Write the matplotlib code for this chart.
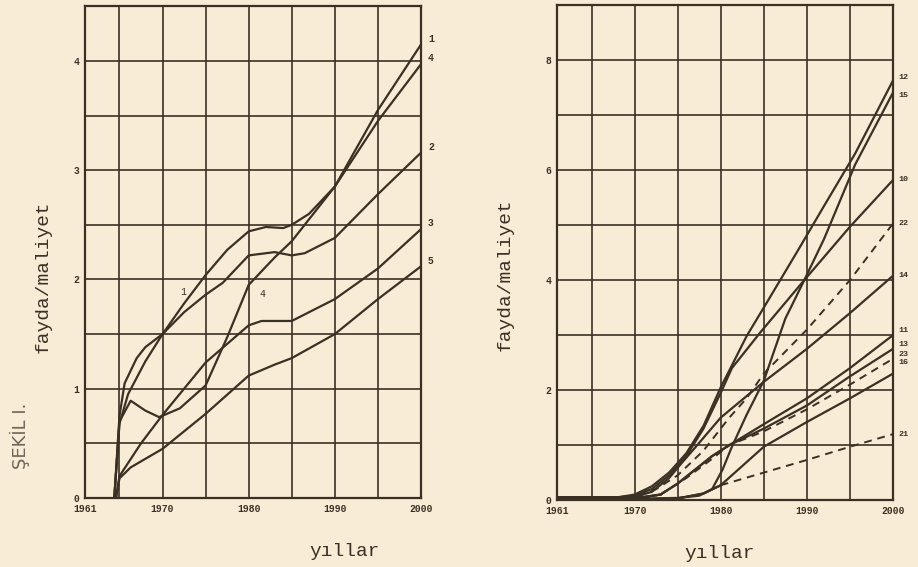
import matplotlib
matplotlib.use("Agg")
import matplotlib.pyplot as plt

# --- left panel (1..5) ---
left_names = ["1", "2", "3", "4", "5"]
left_years = [
    [1964.4, 1965, 1966, 1968, 1970, 1972.5, 1975, 1977.5, 1980, 1982, 1984, 1985, 1987, 1990, 1995, 2000],
    [1964.4, 1965, 1965.6, 1967, 1968, 1970, 1972.5, 1975, 1977, 1980, 1983, 1985, 1986.5, 1990, 1995, 2000],
    [1964.6, 1965, 1967.5, 1970, 1975, 1980, 1981.5, 1985, 1990, 1995, 2000],
    [1964.4, 1965, 1966.3, 1968, 1969.6, 1972, 1975, 1977.5, 1980, 1983, 1985, 1987, 1990, 1995, 2000],
    [1964.6, 1965, 1966.3, 1970, 1975, 1980, 1983, 1985, 1990, 1995, 2000],
]
left_vals = [
    [0.0, 0.68, 0.95, 1.25, 1.5, 1.78, 2.04, 2.27, 2.44, 2.48, 2.47, 2.5, 2.6, 2.85, 3.55, 4.15],
    [0.0, 0.75, 1.05, 1.28, 1.38, 1.5, 1.7, 1.86, 1.97, 2.22, 2.25, 2.22, 2.24, 2.38, 2.78, 3.16],
    [0.0, 0.2, 0.5, 0.76, 1.24, 1.58, 1.62, 1.62, 1.82, 2.1, 2.46],
    [0.0, 0.7, 0.89, 0.8, 0.74, 0.82, 1.03, 1.47, 1.95, 2.2, 2.35, 2.55, 2.85, 3.45, 3.97],
    [0.0, 0.18, 0.28, 0.45, 0.77, 1.12, 1.22, 1.28, 1.5, 1.82, 2.12],
]

# --- right panel (10..23), dashed ones marked below ---
right_names = ["12", "15", "10", "22", "14", "11", "13", "23", "16", "21"]
right_dashed = {"22": (1970.5, 2000), "23": (1973, 2000), "21": (1980, 2000)}
right_years = [
    [1961, 1968, 1970, 1972, 1974, 1976, 1978, 1980, 1981.3, 1983, 1985, 1989, 1992, 1995.6, 2000],
    [1961, 1972, 1975, 1977.5, 1979, 1980.2, 1981.3, 1983, 1985, 1987.5, 1989.7, 1992, 1995.6, 2000],
    [1961, 1968, 1970, 1972, 1974, 1976, 1978, 1980, 1981.3, 1984.6, 1989.7, 1995, 2000],
    [1961, 1968, 1970.5, 1972.5, 1975, 1978, 1981, 1983, 1985, 1990, 1995, 2000],
    [1961, 1968, 1970, 1972, 1974, 1975.5, 1977, 1980, 1985, 1990, 1995, 2000],
    [1961, 1970, 1973, 1975, 1977, 1979, 1981, 1985, 1990, 1995, 2000],
    [1961, 1970, 1973, 1975, 1977, 1979, 1981, 1985, 1990, 1995, 2000],
    [1961, 1970, 1973, 1976, 1979, 1981, 1985, 1990, 1995, 2000],
    [1961, 1972, 1975, 1978, 1980, 1982, 1985, 1990, 1995, 2000],
    [1961, 1972, 1975, 1978, 1980, 1985, 1990, 1995, 2000],
]
right_vals = [
    [0.05, 0.05, 0.1, 0.25, 0.5, 0.85, 1.35, 2.05, 2.45, 2.98, 3.5, 4.55, 5.35, 6.3, 7.63],
    [0.03, 0.03, 0.04, 0.08, 0.2, 0.55, 0.97, 1.55, 2.17, 3.3, 4.0, 4.75, 6.1, 7.41],
    [0.05, 0.05, 0.08, 0.2, 0.45, 0.8, 1.3, 1.95, 2.4, 3.05, 4.0, 4.97, 5.82],
    [0.05, 0.05, 0.07, 0.2, 0.45, 0.9, 1.5, 1.85, 2.3, 3.1, 4.0, 5.03],
    [0.04, 0.04, 0.06, 0.15, 0.4, 0.68, 0.95, 1.5, 2.15, 2.75, 3.4, 4.08],
    [0.03, 0.03, 0.1, 0.3, 0.55, 0.8, 1.0, 1.38, 1.85, 2.4, 3.0],
    [0.03, 0.03, 0.1, 0.3, 0.55, 0.8, 1.0, 1.3, 1.72, 2.25, 2.75],
    [0.03, 0.03, 0.1, 0.4, 0.75, 1.0, 1.25, 1.65, 2.1, 2.57],
    [0.02, 0.02, 0.03, 0.12, 0.27, 0.55, 0.97, 1.42, 1.85, 2.3],
    [0.02, 0.02, 0.03, 0.12, 0.27, 0.5, 0.73, 0.97, 1.2],
]

# label nudges at the right edge (points)
right_label_dy = {"12": 2, "15": -2, "11": 3, "13": 3, "23": 3, "16": 8}

paper = "#f8ecd6"
ink = "#3a3124"
mono = "Liberation Mono"

fig = plt.figure(figsize=(9.18, 5.67), dpi=100, facecolor=paper)
axl = fig.add_axes([0.0926, 0.1217, 0.366, 0.8673])
axr = fig.add_axes([0.6068, 0.118, 0.366, 0.873])


def style_axes(ax, ymax, ystep, yticks):
    ax.set_facecolor(paper)
    ax.set_xlim(1961, 2000)
    ax.set_ylim(0, ymax)
    grid_x = [1961] + list(range(1965, 2001, 5))
    ax.set_xticks(grid_x)
    ax.set_xticklabels([str(y) if y in (1961, 1970, 1980, 1990, 2000) else "" for y in grid_x])
    gy = [i * ystep for i in range(int(round(ymax / ystep)) + 1)]
    ax.set_yticks(gy)
    ax.set_yticklabels([str(int(v)) if v in yticks else "" for v in gy])
    ax.grid(True, color=ink, linewidth=1.2)
    ax.tick_params(length=0, labelsize=7, colors=ink, pad=4)
    for lab in ax.get_xticklabels() + ax.get_yticklabels():
        lab.set_fontfamily(mono)
        lab.set_fontweight("bold")
    for s in ax.spines.values():
        s.set_color(ink)
        s.set_linewidth(1.6)
    ax.set_ylabel("fayda/maliyet", fontfamily=mono, fontsize=14, color=ink)
    ax.set_xlabel("yıllar", fontfamily=mono, fontsize=14, color=ink)


style_axes(axl, 4.5, 0.5, [0, 1, 2, 3, 4])
style_axes(axr, 9, 1, [0, 2, 4, 6, 8])
axl.yaxis.set_label_coords(-0.098, 0.45)
axl.xaxis.set_label_coords(0.774, -0.092)
axr.yaxis.set_label_coords(-0.128, 0.455)
axr.xaxis.set_label_coords(0.485, -0.09)

for name, xs, ys in zip(left_names, left_years, left_vals):
    axl.plot(xs, ys, color=ink, linewidth=1.6, solid_capstyle="round")
    axl.annotate(name, (xs[-1], ys[-1]), xytext=(5, 2), textcoords="offset points",
                 fontsize=7, fontfamily=mono, fontweight="bold", color=ink,
                 annotation_clip=False)

# small inline labels on the left panel
axl.text(1972.0, 1.86, "1", fontsize=7, fontfamily=mono, color=ink)
axl.text(1981.3, 1.84, "4", fontsize=7, fontfamily=mono, color=ink)

for name, xs, ys in zip(right_names, right_years, right_vals):
    if name in right_dashed:
        start = right_dashed[name][0]
        solid_x = [x for x in xs if x <= start]
        solid_y = ys[:len(solid_x)]
        dash_x = xs[len(solid_x) - 1:]
        dash_y = ys[len(solid_x) - 1:]
        axr.plot(solid_x, solid_y, color=ink, linewidth=1.6)
        axr.plot(dash_x, dash_y, color=ink, linewidth=1.4, linestyle=(0, (4, 3)))
    else:
        axr.plot(xs, ys, color=ink, linewidth=1.6)
    axr.annotate(name, (xs[-1], ys[-1]), xytext=(4, right_label_dy.get(name, 0)),
                 textcoords="offset points", fontsize=6, fontfamily=mono,
                 fontweight="bold", color=ink, va="center", annotation_clip=False)

fig.text(0.022, 0.232, "ŞEKİL I.", rotation=90, fontsize=13, color="#6e665a",
         fontfamily="DejaVu Sans", va="center", ha="center")

fig.savefig("out.png", dpi=100, facecolor=paper)
